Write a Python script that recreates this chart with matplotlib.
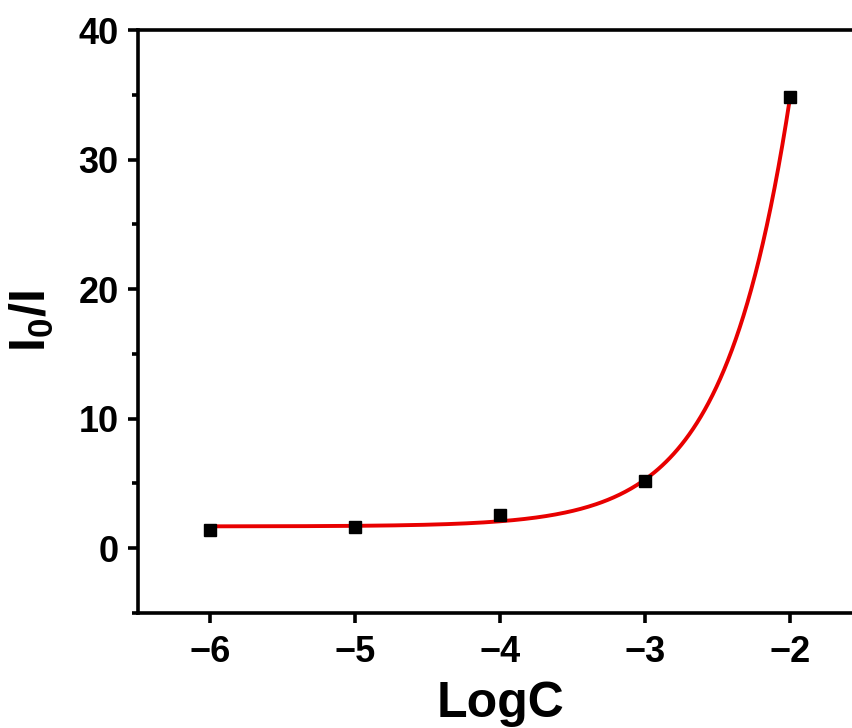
import numpy as np
import matplotlib
matplotlib.use("Agg")
import matplotlib.pyplot as plt
from matplotlib.ticker import MultipleLocator

plt.rcParams['font.family'] = ['Liberation Sans', 'DejaVu Sans']
plt.rcParams['font.weight'] = 'bold'
plt.rcParams['mathtext.fontset'] = 'custom'
plt.rcParams['mathtext.bf'] = 'Liberation Sans:bold'
plt.rcParams['mathtext.rm'] = 'Liberation Sans:bold'
plt.rcParams['mathtext.default'] = 'bf'

log_c = np.array([-6, -5, -4, -3, -2])
ratio = np.array([1.4, 1.6, 2.6, 5.2, 34.8])

# exponential growth fit y = y0 + A*exp(x/t), t by grid search, y0/A by least squares
best = None
for t in np.linspace(0.2, 1.5, 1301):
    M = np.column_stack([np.ones_like(log_c, dtype=float), np.exp(log_c / t)])
    coef, res, _, _ = np.linalg.lstsq(M, ratio, rcond=None)
    err = np.sum((M @ coef - ratio) ** 2)
    if best is None or err < best[0]:
        best = (err, t, coef)
_, t_fit, (y0_fit, a_fit) = best
x_fit = np.linspace(-6, -2, 300)
y_fit = y0_fit + a_fit * np.exp(x_fit / t_fit)

fig = plt.figure(figsize=(8.53, 7.28), dpi=100)
ax = fig.add_axes([138 / 853, 115 / 728, 724.5 / 853, 583 / 728])

ax.plot(x_fit, y_fit, color='#e80000', lw=2.8, zorder=2)
ax.plot(log_c, ratio, 's', color='black', ms=8.5, zorder=3)

ax.set_xlim(-6.5, -1.5)
ax.set_ylim(-5, 40)
ax.xaxis.set_major_locator(MultipleLocator(1))
ax.yaxis.set_major_locator(MultipleLocator(10))
ax.yaxis.set_minor_locator(MultipleLocator(5))

for s in ax.spines.values():
    s.set_linewidth(2.6)
ax.tick_params(which='major', direction='out', length=7, width=2.6, labelsize=26, pad=7)
ax.tick_params(which='minor', direction='out', length=4, width=2.6)
ax.tick_params(axis='x', which='major', pad=9)

ax.set_xlabel('LogC', fontsize=36, fontweight='bold', labelpad=8)
ax.set_ylabel(r'I$_{0}$/I', fontsize=36, fontweight='bold', labelpad=16)

fig.savefig('out.png', dpi=100)
